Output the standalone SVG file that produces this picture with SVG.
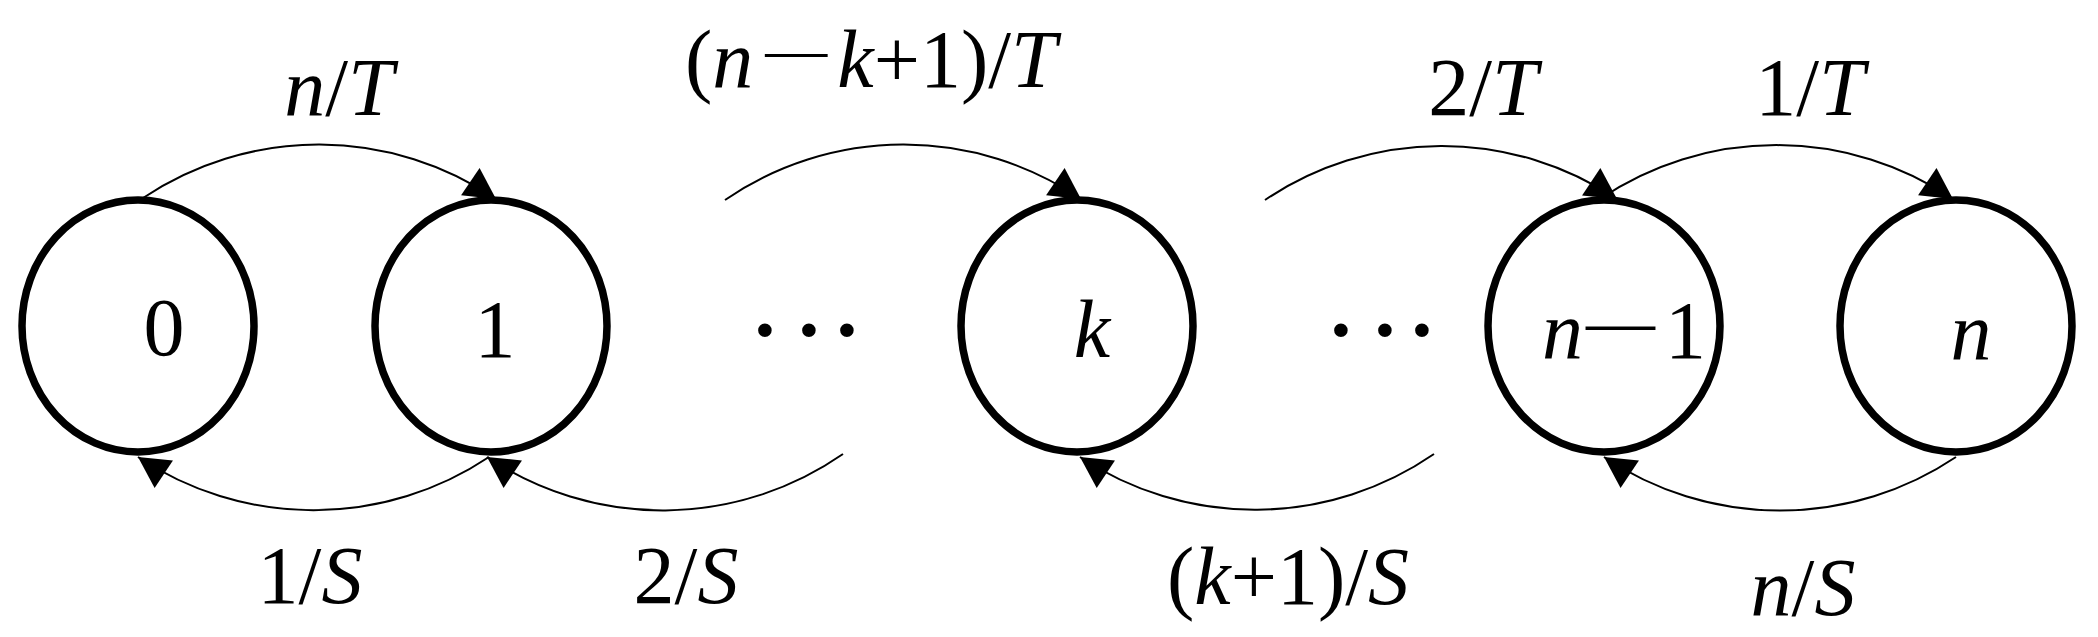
<svg xmlns="http://www.w3.org/2000/svg" width="2098" height="637" viewBox="0 0 2098 637">
<style>
  .node ellipse { fill: none; stroke: #000; stroke-width: 7.5; }
  .edge path { fill: none; stroke: #000; stroke-width: 2; marker-end: url(#ah); }
  text { font-family: "Liberation Serif", "Times New Roman", serif; font-size: 82px; fill: #000; }
  .i { font-style: italic; }
  .dots { font-size: 115px; }
</style>
<defs>
  <marker id="ah" markerUnits="userSpaceOnUse" viewBox="-33 -18 35 36" markerWidth="35" markerHeight="36" refX="0" refY="0" orient="auto">
    <path d="M0,0 L-31,-16.5 L-31,16.5 Z" fill="#000"/>
  </marker>
</defs>
<rect width="2098" height="637" fill="#fff"/>

<g id="connectors">
  <g class="edge" id="e-0-1"><path d="M143,198 A316,316 0 0 1 496,199"/><text x="339" y="115" text-anchor="middle"><tspan class="i">n</tspan>/<tspan class="i">T</tspan></text></g>
  <g class="edge" id="e-km1-k"><path d="M725,200 A316,316 0 0 1 1081,199"/><text x="685" y="87"><tspan>(</tspan><tspan class="i">n</tspan><tspan style="font-size:62px" dx="12" dy="-17">—</tspan><tspan class="i" dx="10" dy="17">k</tspan><tspan>+1)/</tspan><tspan class="i">T</tspan></text></g>
  <g class="edge" id="e-nm2-nm1"><path d="M1265,200 A316,316 0 0 1 1617,199"/><text x="1483" y="115" text-anchor="middle">2/<tspan class="i">T</tspan></text></g>
  <g class="edge" id="e-nm1-n"><path d="M1600,199 A316,316 0 0 1 1953,199"/><text x="1810" y="115" text-anchor="middle">1/<tspan class="i">T</tspan></text></g>
  <g class="edge" id="e-1-0"><path d="M489,457 A316,316 0 0 1 138,457"/><text x="310" y="603" text-anchor="middle">1/<tspan class="i">S</tspan></text></g>
  <g class="edge" id="e-2-1"><path d="M843,454 A316,316 0 0 1 487,457"/><text x="686" y="603" text-anchor="middle">2/<tspan class="i">S</tspan></text></g>
  <g class="edge" id="e-kp1-k"><path d="M1434,454 A316,316 0 0 1 1080,457"/><text x="1288" y="604" text-anchor="middle">(<tspan class="i">k</tspan>+1)/<tspan class="i">S</tspan></text></g>
  <g class="edge" id="e-n-nm1"><path d="M1956,457 A316,316 0 0 1 1604,457"/><text x="1803" y="615" text-anchor="middle"><tspan class="i">n</tspan>/<tspan class="i">S</tspan></text></g>
</g>

<g id="node-0" class="node"><ellipse cx="138" cy="326" rx="116" ry="126"/><text x="164" y="355" text-anchor="middle">0</text></g>
<g id="node-1" class="node"><ellipse cx="491" cy="326" rx="116" ry="126"/><text x="495" y="357" text-anchor="middle">1</text></g>
<g id="node-k" class="node"><ellipse cx="1077" cy="326" rx="116" ry="126"/><text x="1092" y="357" text-anchor="middle" class="i">k</text></g>
<g id="node-nm1" class="node"><ellipse cx="1604" cy="326" rx="116" ry="126"/><text x="1542" y="358"><tspan class="i">n</tspan><tspan style="font-size:69px" dx="3" dy="-13">—</tspan><tspan dx="10" dy="13">1</tspan></text></g>
<g id="node-n" class="node"><ellipse cx="1956" cy="326" rx="116" ry="126"/><text x="1971" y="359" text-anchor="middle" class="i">n</text></g>

<g id="ellipsis-left"><text class="dots" x="765 809 847" y="368" text-anchor="middle">···</text></g>
<g id="ellipsis-right"><text class="dots" x="1341 1385 1422" y="368" text-anchor="middle">···</text></g>
</svg>
